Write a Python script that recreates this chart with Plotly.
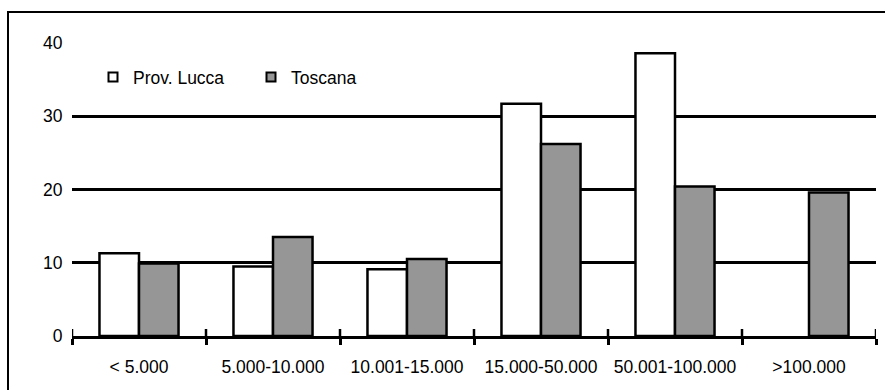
import plotly.graph_objects as go

# Fasce di popolazione dei comuni (abitanti)
categories = ["< 5.000", "5.000-10.000", "10.001-15.000", "15.000-50.000",
              "50.001-100.000", ">100.000"]
# Quote percentuali per area
lucca = [11.3, 9.5, 9.1, 31.7, 38.6, None]
toscana = [9.9, 13.5, 10.5, 26.2, 20.4, 19.6]
y_ticks = [0, 10, 20, 30, 40]

FONT = "Liberation Sans, Arial, sans-serif"
LEFT, RIGHT, TOP, BOTTOM = 72, 9, 43, 54
W, H = 885, 390
pw, ph = W - LEFT - RIGHT, H - TOP - BOTTOM

series = [("Prov. Lucca", lucca, "#ffffff"), ("Toscana", toscana, "#969696")]
n = len(categories)

fig = go.Figure()
for name, vals, fill in series:
    fig.add_trace(go.Bar(
        x=categories, y=vals, name=name, showlegend=False,
        marker=dict(color=fill, line=dict(color="#000000", width=2.5)),
    ))
# compact square legend keys
for name, vals, fill in series:
    fig.add_trace(go.Scatter(
        x=[None], y=[None], name=name, mode="markers",
        marker=dict(symbol="square", size=9, color=fill,
                    line=dict(color="#000000", width=2)),
    ))

fig.update_layout(
    width=W, height=H,
    margin=dict(l=LEFT, r=RIGHT, t=TOP, b=BOTTOM, pad=0),
    paper_bgcolor="#ffffff", plot_bgcolor="#ffffff",
    font=dict(family=FONT, size=17.5, color="#000000"),
    barmode="group", bargap=0.41, bargroupgap=0,
    showlegend=True,
    legend=dict(orientation="h", x=(93 - LEFT) / pw, xanchor="left",
                y=(H - BOTTOM - 77) / ph, yanchor="middle",
                bgcolor="rgba(0,0,0,0)", font=dict(size=17.5),
                entrywidth=113, traceorder="normal"),
    xaxis=dict(type="category", range=[-0.5, n - 0.5],
               tickson="boundaries", ticks="outside",
               ticklen=6, tickwidth=2.5, tickcolor="#000000",
               showline=True, linewidth=2.5, linecolor="#000000",
               showgrid=False, zeroline=False, ticklabelstandoff=13,
               tickfont=dict(size=17.5)),
    yaxis=dict(range=[0, 40], tickvals=y_ticks, ticks="outside", ticklen=5,
               tickcolor="rgba(0,0,0,0)", showline=False,
               showgrid=True, gridcolor="#000000", gridwidth=2.5,
               zeroline=False, tickfont=dict(size=17.5)),
)

# category separators crossing the baseline
for i in range(n + 1):
    fig.add_shape(type="line", xref="x", yref="y", ysizemode="pixel",
                  yanchor=0, x0=i - 0.5, x1=i - 0.5, y0=-6, y1=7,
                  line=dict(color="#000000", width=2.5), layer="above")

# chart frame (left and top edges visible in the window)
fig.add_shape(type="rect", xref="paper", yref="paper",
              x0=(8 - LEFT) / pw, x1=1.05,
              y0=-0.25, y1=(H - BOTTOM - 12) / ph,
              line=dict(color="#000000", width=2), layer="above")

fig.write_html("out.html")
